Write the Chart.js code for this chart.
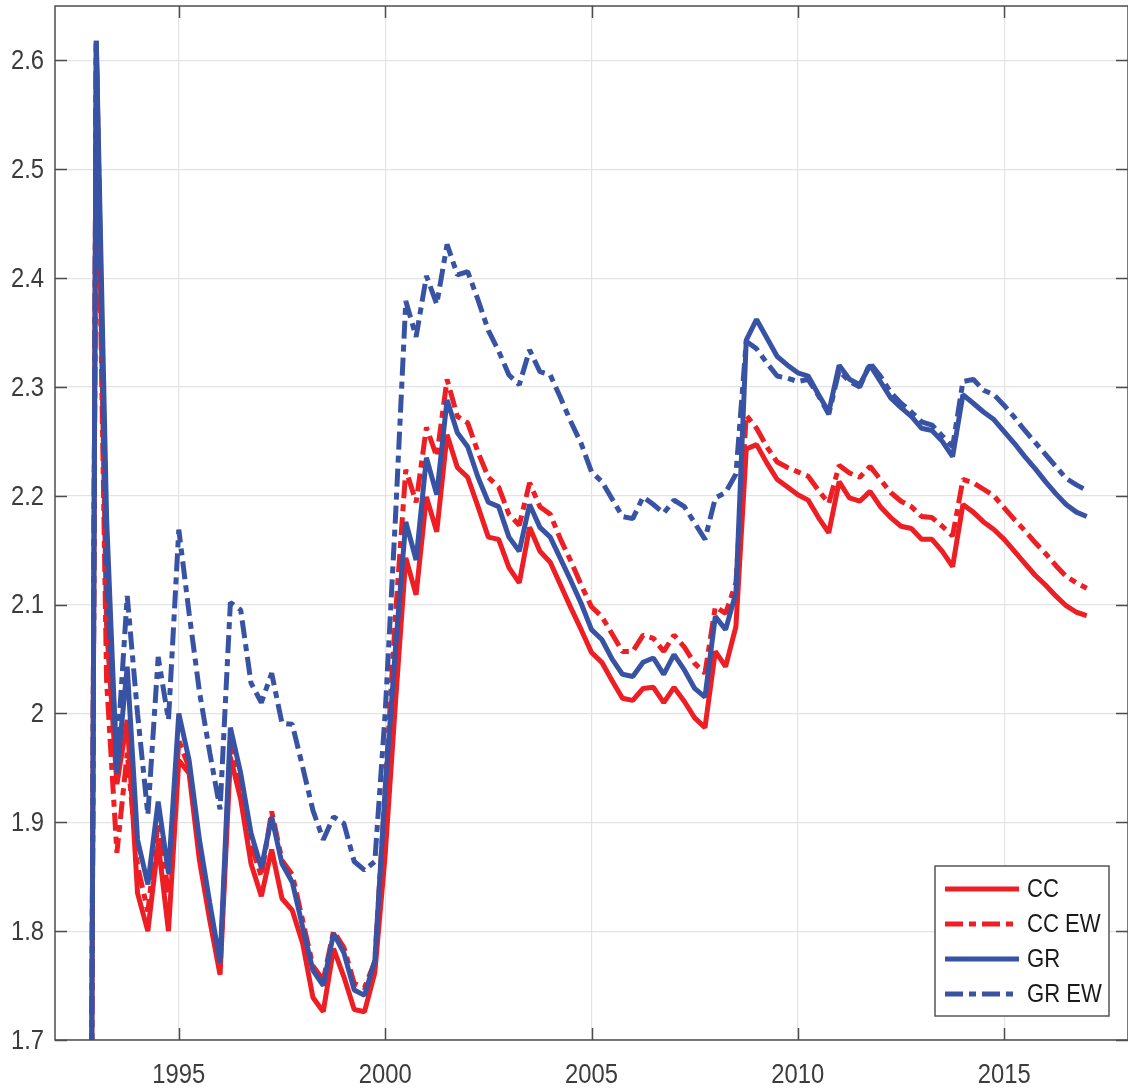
<!DOCTYPE html>
<html>
<head>
<meta charset="utf-8">
<script src="https://cdn.jsdelivr.net/npm/chart.js@4.4.1/dist/chart.umd.min.js"></script>
<style>
  html, body { margin: 0; padding: 0; background: #fff; }
  #wrap { width: 1128px; height: 1092px; }
</style>
</head>
<body>
<div id="wrap"><canvas id="lineChart" width="1128" height="1092"></canvas></div>
<script>
// quarterly series, first quarter 1992 Q4 (1992.75), last 2017.0
const firstQuarter = 1992.75;
const xTicks = [1995, 2000, 2005, 2010, 2015];
const yTicks = [1.7, 1.8, 1.9, 2.0, 2.1, 2.2, 2.3, 2.4, 2.5, 2.6];
const seriesNames = ['CC', 'CC EW', 'GR', 'GR EW'];

const cc = [
  0.5, 2.615, 2.08, 1.935, 1.994, 1.835, 1.8, 1.881, 1.8, 1.957,
  1.945, 1.865, 1.81, 1.76, 1.96, 1.921, 1.862, 1.832, 1.875, 1.83,
  1.819, 1.789, 1.739, 1.726, 1.784, 1.758, 1.728, 1.726, 1.762, 1.87,
  2.01, 2.143, 2.109, 2.199, 2.167, 2.256, 2.226, 2.217, 2.19, 2.162,
  2.16, 2.134, 2.12, 2.171, 2.149, 2.139, 2.118, 2.097, 2.077, 2.056,
  2.047, 2.03, 2.014, 2.012, 2.023, 2.024, 2.01, 2.024, 2.011, 1.996,
  1.987, 2.057, 2.043, 2.08, 2.243, 2.247, 2.23, 2.215, 2.208, 2.201,
  2.196, 2.18, 2.166, 2.213, 2.198, 2.195, 2.204, 2.19, 2.18, 2.172,
  2.17, 2.16, 2.16, 2.149, 2.135, 2.192, 2.185, 2.176, 2.169, 2.16,
  2.149, 2.138, 2.127, 2.118, 2.108, 2.099, 2.093, 2.09
];
const ccEw = [
  0.5, 2.615, 2.03, 1.872, 1.964, 1.86, 1.818, 1.9, 1.835, 1.975,
  1.95, 1.875, 1.82, 1.765, 1.975, 1.935, 1.88, 1.85, 1.91, 1.865,
  1.852, 1.81, 1.768, 1.755, 1.8, 1.785, 1.752, 1.748, 1.772, 1.93,
  2.09, 2.224, 2.194, 2.263, 2.236, 2.307, 2.273, 2.267, 2.24, 2.217,
  2.208, 2.183, 2.173, 2.212, 2.19, 2.183, 2.16, 2.14, 2.118, 2.098,
  2.089, 2.073, 2.057, 2.057, 2.072, 2.069, 2.057, 2.072, 2.061, 2.046,
  2.037, 2.098, 2.092, 2.12, 2.274, 2.262, 2.245, 2.231, 2.226, 2.222,
  2.218, 2.205, 2.193, 2.228, 2.221, 2.217, 2.227, 2.215, 2.203, 2.195,
  2.19, 2.181, 2.18, 2.172, 2.163, 2.215, 2.212, 2.206, 2.2, 2.189,
  2.178, 2.168, 2.157, 2.147, 2.136, 2.126, 2.12, 2.115
];
const gr = [
  0.5, 2.618, 2.18, 1.945, 2.043, 1.884, 1.843, 1.919, 1.853, 2.0,
  1.957, 1.884, 1.826, 1.771, 1.987, 1.945, 1.89, 1.858, 1.905, 1.862,
  1.845, 1.804, 1.764, 1.75, 1.798, 1.78, 1.746, 1.741, 1.773, 1.93,
  2.06, 2.176, 2.141, 2.235, 2.201, 2.288, 2.258, 2.245, 2.217, 2.194,
  2.19, 2.162, 2.149, 2.192, 2.171, 2.162, 2.142, 2.122, 2.101, 2.077,
  2.068, 2.05, 2.036, 2.034, 2.047, 2.051, 2.036, 2.054, 2.04, 2.023,
  2.015, 2.089, 2.077, 2.111, 2.343, 2.362, 2.345, 2.328, 2.32, 2.313,
  2.31, 2.293, 2.277, 2.32, 2.307, 2.302, 2.32, 2.305, 2.29, 2.281,
  2.273, 2.262, 2.26, 2.25, 2.236, 2.293, 2.285, 2.277, 2.27, 2.259,
  2.248, 2.236, 2.225, 2.213, 2.202, 2.192, 2.185, 2.181
];
const grEw = [
  0.5, 2.618, 2.12, 1.96, 2.108, 2.0, 1.907, 2.052, 1.994, 2.169,
  2.092, 2.02, 1.964, 1.912, 2.102, 2.095, 2.028, 2.01, 2.037, 1.991,
  1.99, 1.951, 1.911, 1.884, 1.905, 1.899, 1.864, 1.856, 1.864, 2.0,
  2.18, 2.379, 2.346, 2.402, 2.376, 2.431, 2.403, 2.406, 2.38, 2.352,
  2.333, 2.311, 2.302, 2.334, 2.314, 2.311, 2.29, 2.268, 2.248, 2.222,
  2.213, 2.197, 2.181, 2.179, 2.199, 2.192, 2.184, 2.196, 2.19, 2.175,
  2.16, 2.198, 2.203, 2.22, 2.342, 2.335, 2.322, 2.31, 2.308, 2.305,
  2.307, 2.292, 2.275, 2.315, 2.305, 2.3, 2.322, 2.31, 2.295, 2.285,
  2.277, 2.268, 2.265, 2.255, 2.245, 2.305, 2.307, 2.297, 2.293, 2.283,
  2.272, 2.26, 2.249, 2.238, 2.227, 2.216, 2.21, 2.205
];

const red = 'rgb(237, 30, 36)';
const blue = 'rgb(57, 83, 164)';
const dashDot = [18, 6, 7, 6];
const fontFamily = "'Liberation Sans', Arial, sans-serif";
const squeeze = 0.85; // narrow, Helvetica-like labels

const toPoints = vals => vals.map((v, i) => ({ x: firstQuarter + i / 4, y: v }));

function lineSet(label, vals, color, dash, order) {
    return {
        label: label,
        data: toPoints(vals),
        borderColor: color,
        backgroundColor: color,
        borderWidth: 5,
        borderDash: dash,
        borderJoinStyle: 'bevel',
        pointRadius: 0,
        tension: 0,
        fill: false,
        order: order
    };
}

function narrowText(ctx, text, x, y, align) {
    ctx.save();
    ctx.translate(x, y);
    ctx.scale(squeeze, 1);
    ctx.textAlign = align;
    ctx.fillText(text, 0, 0);
    ctx.restore();
}

// axis box with inward ticks, tick labels and the legend box
const frame = {
    id: 'frame',
    afterDraw(chart) {
        const { ctx, chartArea: a, scales } = chart;
        ctx.save();
        ctx.strokeStyle = '#4d4d4d';
        ctx.lineWidth = 1.5;
        ctx.strokeRect(a.left, a.top, a.right - a.left, a.bottom - a.top);
        ctx.beginPath();
        xTicks.forEach(v => {
            const px = Math.round(scales.x.getPixelForValue(v)) + 0.5;
            ctx.moveTo(px, a.bottom); ctx.lineTo(px, a.bottom - 12);
            ctx.moveTo(px, a.top); ctx.lineTo(px, a.top + 12);
        });
        yTicks.forEach(v => {
            const py = Math.round(scales.y.getPixelForValue(v)) + 0.5;
            ctx.moveTo(a.left, py); ctx.lineTo(a.left + 12, py);
            ctx.moveTo(a.right, py); ctx.lineTo(a.right - 12, py);
        });
        ctx.stroke();

        ctx.fillStyle = '#3c3c3c';
        ctx.font = '28px ' + fontFamily;
        ctx.textBaseline = 'middle';
        xTicks.forEach(v => {
            narrowText(ctx, String(v), scales.x.getPixelForValue(v), a.bottom + 35, 'center');
        });
        yTicks.forEach(v => {
            narrowText(ctx, String(Number(v.toFixed(1))), a.left - 11, scales.y.getPixelForValue(v) + 1, 'right');
        });

        const bw = 174, bh = 150;
        const bx = a.right - 19 - bw, by = a.bottom - 24 - bh;
        ctx.fillStyle = '#fff';
        ctx.fillRect(bx, by, bw, bh);
        ctx.strokeStyle = '#555';
        ctx.lineWidth = 1.5;
        ctx.strokeRect(bx, by, bw, bh);
        ctx.font = '26px ' + fontFamily;
        chart.data.datasets.forEach((ds, i) => {
            const ry = by + 23 + i * 35;
            ctx.strokeStyle = ds.borderColor;
            ctx.lineWidth = 5;
            ctx.setLineDash(ds.borderDash || []);
            ctx.beginPath();
            ctx.moveTo(bx + 10, ry); ctx.lineTo(bx + 84, ry);
            ctx.stroke();
            ctx.setLineDash([]);
            ctx.fillStyle = '#1a1a1a';
            narrowText(ctx, ds.label, bx + 92, ry + 1, 'left');
        });
        ctx.restore();
    }
};

const ctx1 = document.getElementById('lineChart').getContext('2d');
const lineChart = new Chart(ctx1, {
    type: 'line',
    data: {
        datasets: [
            lineSet(seriesNames[0], cc, red, [], 4),
            lineSet(seriesNames[1], ccEw, red, dashDot, 3),
            lineSet(seriesNames[2], gr, blue, [], 2),
            lineSet(seriesNames[3], grEw, blue, dashDot, 1)
        ]
    },
    options: {
        responsive: false,
        animation: false,
        layout: { padding: { top: 6, right: 0, left: 0, bottom: 0 } },
        plugins: {
            legend: { display: false },
            tooltip: { enabled: false }
        },
        scales: {
            x: {
                type: 'linear',
                min: 1992,
                max: 2018,
                grid: { color: '#e3e3e3', lineWidth: 1.2, drawTicks: false },
                border: { display: false },
                ticks: { display: false },
                afterBuildTicks: s => { s.ticks = xTicks.map(v => ({ value: v })); },
                afterFit: s => { s.height = 52; s.paddingLeft = 0; s.paddingRight = 0; }
            },
            y: {
                min: 1.7,
                max: 2.65,
                grid: { color: '#e3e3e3', lineWidth: 1.2, drawTicks: false },
                border: { display: false },
                ticks: { display: false },
                afterBuildTicks: s => { s.ticks = yTicks.map(v => ({ value: v })); },
                afterFit: s => { s.width = 55; s.paddingTop = 0; s.paddingBottom = 0; }
            }
        }
    },
    plugins: [frame]
});
</script>
</body>
</html>
